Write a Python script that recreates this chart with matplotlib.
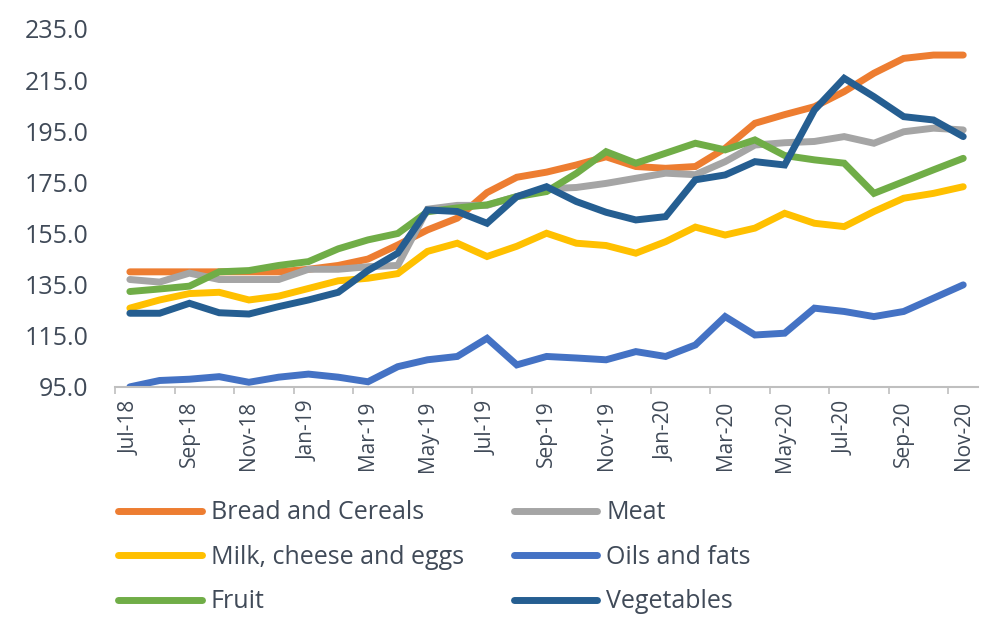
import numpy as np
import matplotlib
matplotlib.use("Agg")
import matplotlib.pyplot as plt

# monthly index values, Jul-18 .. Nov-20
months = ["Jul-18", "Aug-18", "Sep-18", "Oct-18", "Nov-18", "Dec-18",
          "Jan-19", "Feb-19", "Mar-19", "Apr-19", "May-19", "Jun-19",
          "Jul-19", "Aug-19", "Sep-19", "Oct-19", "Nov-19", "Dec-19",
          "Jan-20", "Feb-20", "Mar-20", "Apr-20", "May-20", "Jun-20",
          "Jul-20", "Aug-20", "Sep-20", "Oct-20", "Nov-20"]

bread = [140.0, 140.0, 140.0, 140.0, 140.0, 140.0, 141.0, 142.5, 145.0, 150.5,
         156.4, 161.0, 171.0, 177.0, 179.0, 181.8, 185.0, 181.2, 180.5, 181.2,
         188.3, 198.1, 201.5, 204.6, 210.5, 217.7, 223.5, 224.8, 224.8]
meat = [137.0, 136.0, 139.5, 137.0, 137.0, 137.0, 141.0, 141.0, 142.0, 142.5,
        164.5, 166.0, 166.0, 169.5, 172.5, 173.0, 174.6, 176.6, 178.6, 178.0,
        183.1, 189.6, 190.5, 191.0, 192.9, 190.3, 194.8, 196.2, 195.5]
milk = [125.8, 129.0, 131.5, 132.0, 129.0, 130.5, 133.5, 136.5, 137.5, 139.3,
        148.0, 151.2, 146.0, 150.0, 155.1, 151.2, 150.3, 147.3, 151.8, 157.5,
        154.4, 157.1, 162.9, 159.0, 157.7, 163.6, 168.8, 170.7, 173.3]
oils = [95.0, 97.5, 98.0, 99.0, 96.8, 98.8, 100.0, 98.8, 97.0, 102.9,
        105.6, 106.9, 114.0, 103.6, 106.9, 106.3, 105.6, 108.8, 106.9, 111.4,
        122.5, 115.3, 116.0, 125.8, 124.5, 122.5, 124.5, 129.7, 134.9]
fruit = [132.3, 133.3, 134.4, 140.0, 140.5, 142.5, 144.0, 149.0, 152.5, 155.0,
         163.5, 165.0, 166.2, 169.4, 171.4, 178.5, 187.0, 182.5, 186.4, 190.3,
         187.7, 191.6, 185.5, 183.8, 182.5, 170.7, 175.3, 179.9, 184.4]
vegetables = [123.8, 123.8, 127.7, 124.0, 123.5, 126.4, 129.0, 132.0, 140.5, 147.3,
              164.2, 163.6, 159.0, 169.4, 173.3, 167.5, 163.3, 160.3, 161.6, 176.0,
              177.9, 183.1, 181.8, 203.3, 215.7, 208.5, 200.7, 199.4, 192.9]

series = [
    ("Bread and Cereals", bread, "#ED7D31"),
    ("Meat", meat, "#A5A5A5"),
    ("Milk, cheese and eggs", milk, "#FFC000"),
    ("Oils and fats", oils, "#4472C4"),
    ("Fruit", fruit, "#70AD47"),
    ("Vegetables", vegetables, "#255E91"),
]

plt.rcParams["font.family"] = ["Open Sans", "DejaVu Sans"]
text_color = "#404A58"

fig = plt.figure(figsize=(9.87, 6.23), dpi=100)
ax = fig.add_axes([0.1165, 0.379, 0.8745, 0.5745])

x = np.arange(len(months))
lines = {}
for name, vals, col in series:
    ln, = ax.plot(x, vals, color=col, lw=5, solid_capstyle="round",
                  solid_joinstyle="miter", label=name)
    lines[name] = ln

ax.set_xlim(-0.5, len(months) - 0.5)
ax.set_ylim(95, 235)
ax.set_yticks(np.arange(95, 236, 20))
ax.set_yticklabels([f"{v:.1f}" for v in np.arange(95, 236, 20)])
ax.tick_params(axis="y", length=0, pad=19, labelsize=18, labelcolor=text_color)

ax.set_xticks(x[::2])
ax.set_xticklabels(months[::2], rotation=90)
ax.set_xticks(np.arange(-0.5, len(months), 2), minor=True)
ax.tick_params(axis="x", which="major", length=0, pad=10, labelsize=15,
               labelcolor=text_color)
ax.tick_params(axis="x", which="minor", length=5, width=1.2, color="#BFBFBF")

for side in ["top", "right", "left"]:
    ax.spines[side].set_visible(False)
ax.spines["bottom"].set_color("#BFBFBF")
ax.spines["bottom"].set_linewidth(1.5)

# legend: two columns, filled column-wise
order = ["Bread and Cereals", "Milk, cheese and eggs", "Fruit",
         "Meat", "Oils and fats", "Vegetables"]
leg = fig.legend([lines[n] for n in order], order, ncol=2, frameon=False,
                 loc="upper left", bbox_to_anchor=(0.1196, 0.197),
                 fontsize=18, handlelength=3.35, handletextpad=0.35,
                 columnspacing=2.0, labelspacing=0.78, borderpad=0,
                 borderaxespad=0)
for t in leg.get_texts():
    t.set_color(text_color)

fig.savefig("out.png", dpi=100)
